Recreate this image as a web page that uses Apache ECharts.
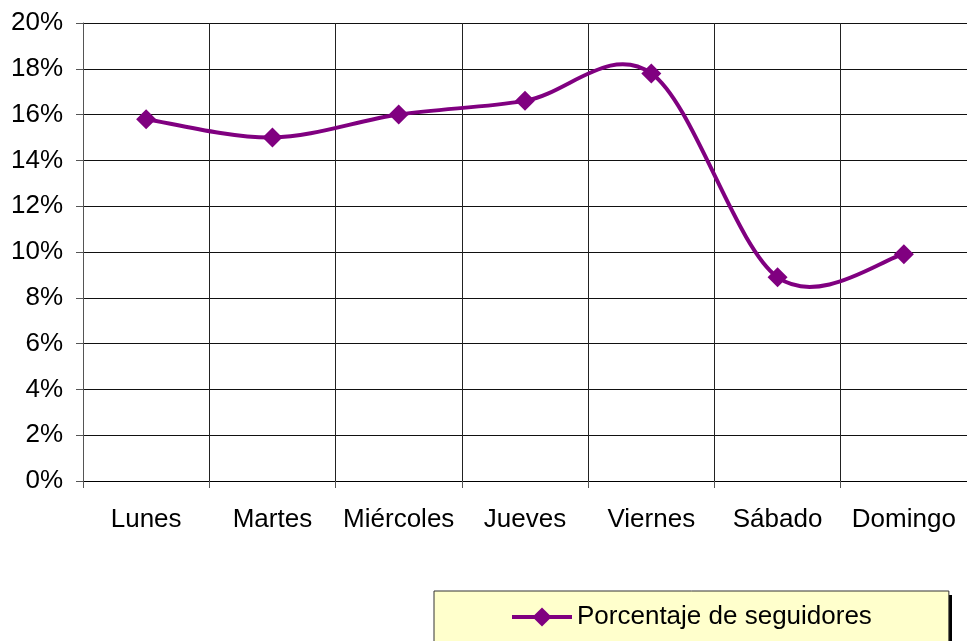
<!DOCTYPE html>
<html>
<head>
<meta charset="utf-8">
<style>
  html, body { margin: 0; padding: 0; background: #fff; }
  #chart { width: 967px; height: 641px; }
</style>
<script src="https://cdn.jsdelivr.net/npm/echarts@6/dist/echarts.min.js"></script>
</head>
<body>
<div id="chart"></div>
<script>
// dias de la semana
var dias = ['Lunes', 'Martes', 'Miércoles', 'Jueves', 'Viernes', 'Sábado', 'Domingo'];
// porcentaje de seguidores (%)
var seguidores = [15.8, 15.0, 16.0, 16.6, 17.8, 8.9, 9.9];
var serieNombre = 'Porcentaje de seguidores';

var myChart = echarts.init(document.getElementById('chart'));
var font = 'Liberation Sans, Arial, sans-serif';
var morado = '#800080';

// curva suavizada tipo Excel (bezier con tension 1/6), pasando por los puntos
function renderCurva(params, api) {
  if (params.dataIndex !== 0) return;
  var pts = seguidores.map(function (v, i) { return api.coord([i, v]); });
  var d = 'M' + pts[0][0] + ' ' + pts[0][1];
  for (var i = 0; i < pts.length - 1; i++) {
    var p0 = pts[i - 1] || pts[i];
    var p1 = pts[i];
    var p2 = pts[i + 1];
    var p3 = pts[i + 2] || pts[i + 1];
    var c1x = p1[0] + (p2[0] - p0[0]) / 6;
    var c1y = p1[1] + (p2[1] - p0[1]) / 6;
    var c2x = p2[0] - (p3[0] - p1[0]) / 6;
    var c2y = p2[1] - (p3[1] - p1[1]) / 6;
    d += ' C' + c1x + ' ' + c1y + ' ' + c2x + ' ' + c2y + ' ' + p2[0] + ' ' + p2[1];
  }
  return {
    type: 'path',
    shape: { pathData: d },
    style: { fill: null, stroke: morado, lineWidth: 4, lineJoin: 'round' }
  };
}

var option = {
  animation: false,
  textStyle: { fontFamily: font },
  grid: { left: 83, right: 0, top: 23, bottom: 160, containLabel: false },
  graphic: [
    {
      // sombra de la leyenda
      type: 'rect',
      left: 438,
      top: 595,
      shape: { width: 514, height: 60 },
      style: { fill: '#000' },
      z: 0
    }
  ],
  legend: {
    left: 434,
    top: 591,
    padding: [13, 77, 40, 76],
    itemWidth: 60,
    itemHeight: 24,
    itemGap: 5,
    backgroundColor: '#FFFFCC',
    borderColor: '#333',
    borderWidth: 1,
    lineStyle: { color: morado, width: 4, opacity: 1 },
    textStyle: { fontSize: 26, color: '#000', fontFamily: font },
    data: [serieNombre]
  },
  xAxis: {
    type: 'category',
    data: dias,
    boundaryGap: true,
    axisLine: { lineStyle: { color: '#000', width: 1 } },
    axisTick: { show: true, length: 7, lineStyle: { color: '#555' } },
    axisLabel: { fontSize: 26, color: '#000', margin: 26, interval: 0 },
    splitLine: { show: true, lineStyle: { color: '#222', width: 1 } }
  },
  yAxis: {
    type: 'value',
    min: 0,
    max: 20,
    interval: 2,
    axisLine: { show: true, lineStyle: { color: '#555', width: 1 } },
    axisTick: { show: true, length: 7, lineStyle: { color: '#555' } },
    axisLabel: { fontSize: 26, color: '#000', margin: 20, formatter: '{value}%' },
    splitLine: { show: true, lineStyle: { color: '#111', width: 1 } }
  },
  series: [
    {
      name: 'curva',
      type: 'custom',
      renderItem: renderCurva,
      data: seguidores.map(function (v, i) { return [i, v]; }),
      encode: { x: 0, y: 1 },
      clip: false,
      silent: true,
      z: 2
    },
    {
      name: serieNombre,
      type: 'line',
      data: seguidores,
      symbol: 'diamond',
      symbolSize: 20,
      lineStyle: { color: morado, width: 4, opacity: 0 },
      itemStyle: { color: morado },
      z: 3
    }
  ]
};
myChart.setOption(option);
</script>
</body>
</html>
